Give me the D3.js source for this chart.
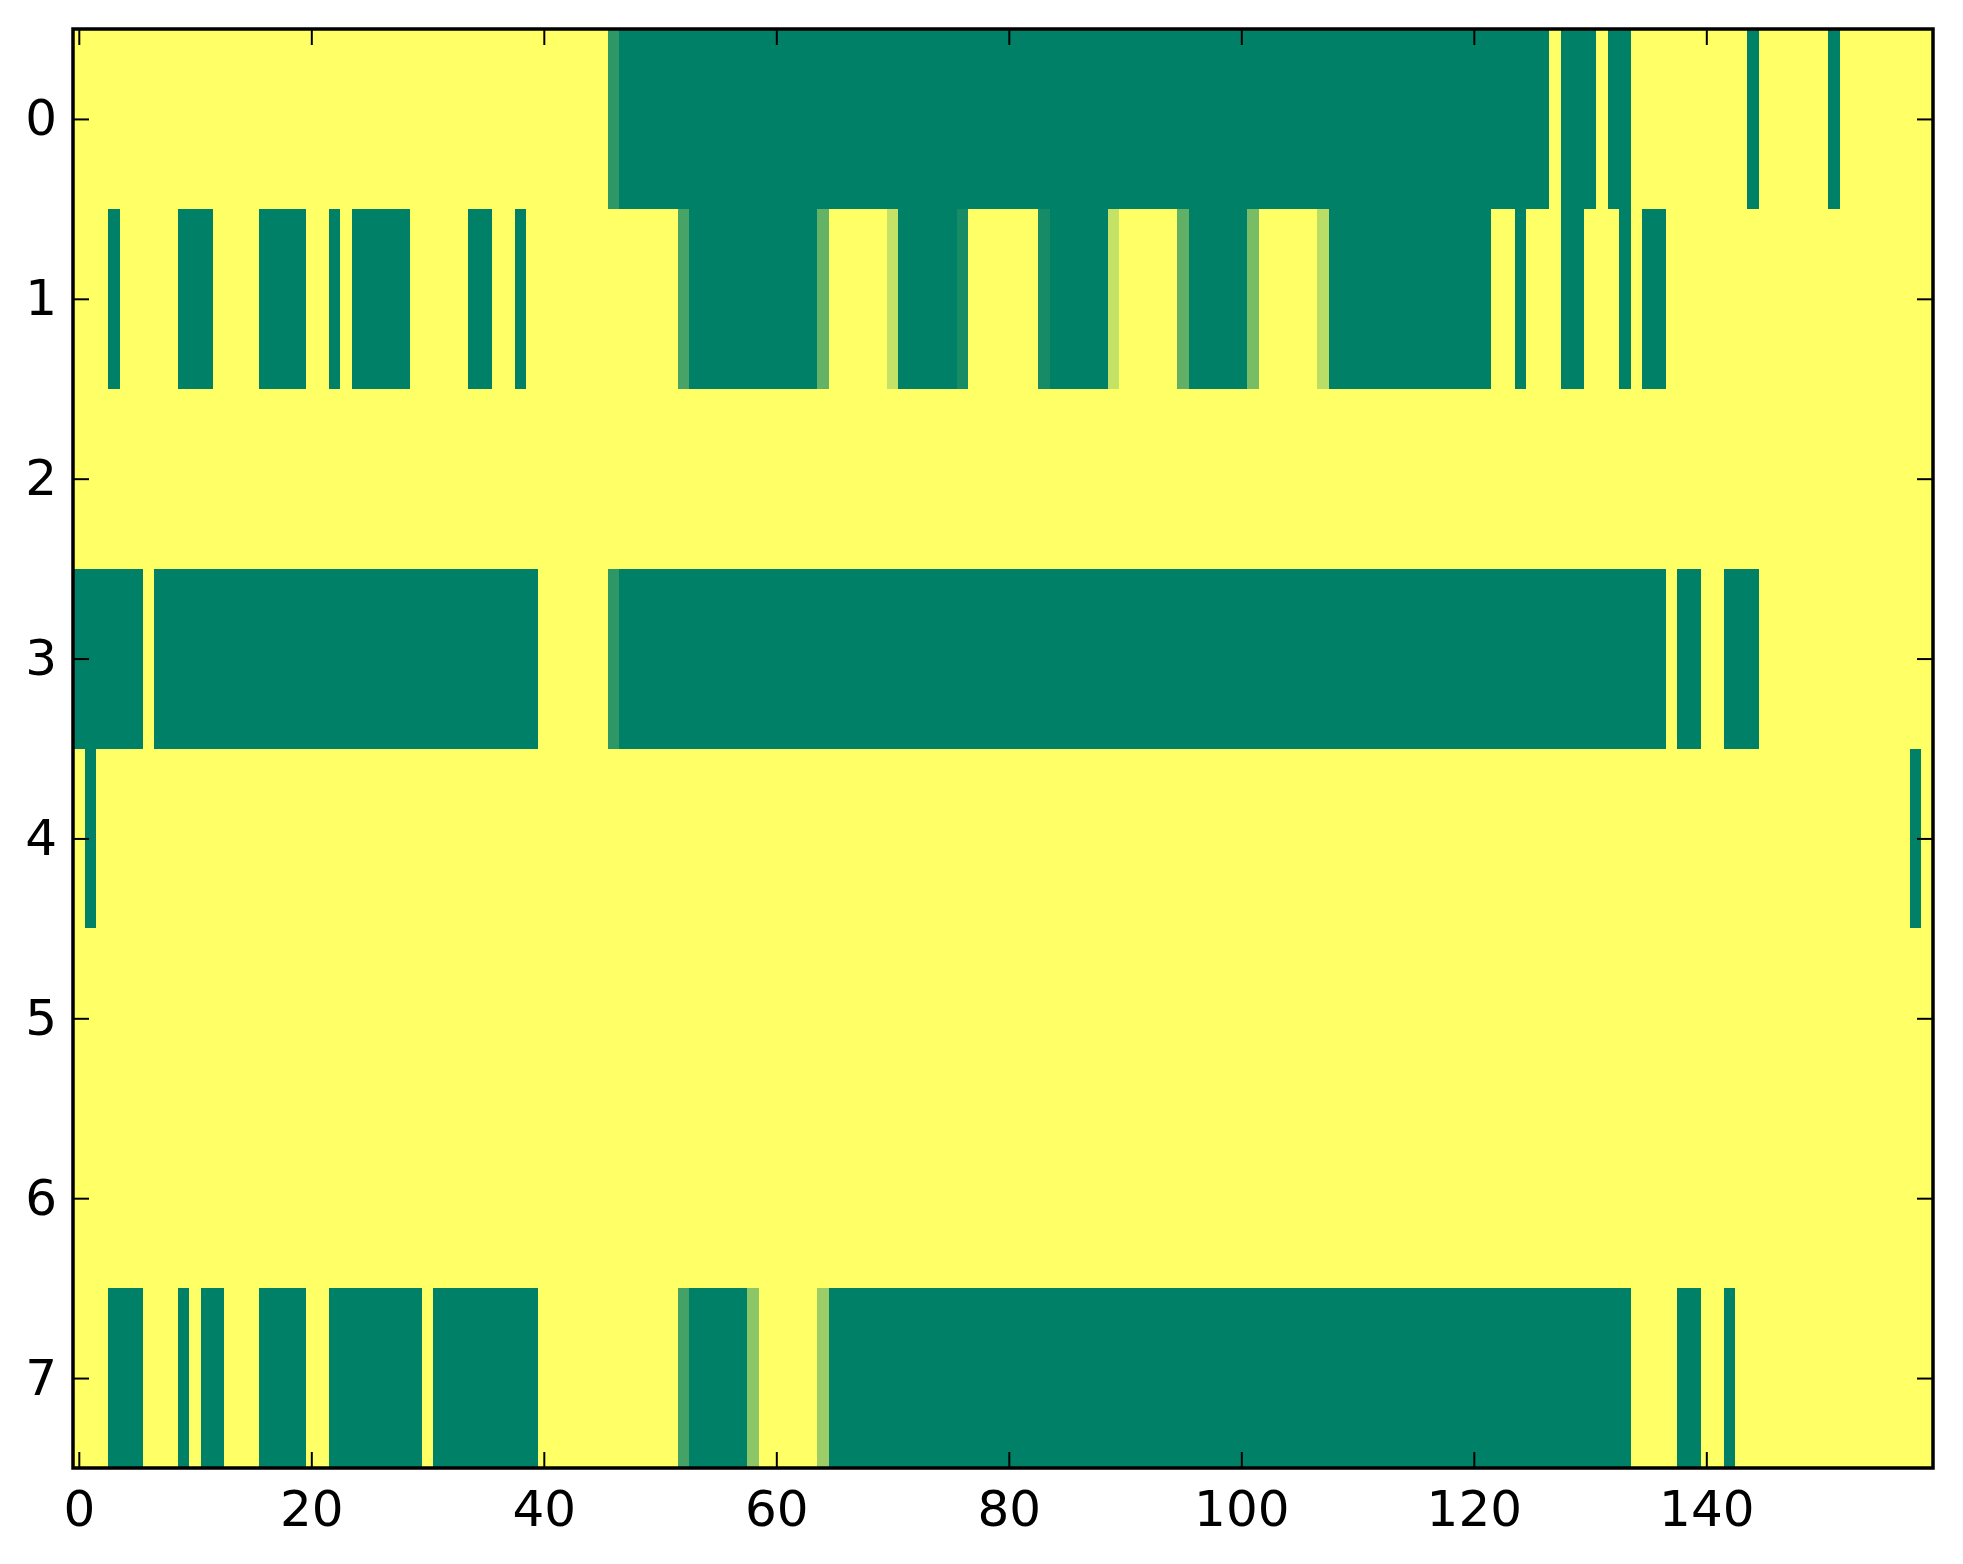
<!DOCTYPE html>
<html>
<head>
<meta charset="utf-8">
<script src="https://cdn.jsdelivr.net/npm/d3@7"></script>
<style>
  html, body { margin: 0; padding: 0; background: #fff; }
  svg { display: block; }
  .tick text { font-family: "DejaVu Sans", sans-serif; font-size: 50px; fill: #000; }
  .tick line { stroke: #000; stroke-width: 2px; }
</style>
</head>
<body>
<div id="chart"></div>
<script>
// each row as runs of [value, count], value 0 = green end, 1 = yellow end
const row0 = [[1, 46], [0.18, 1], [0, 80], [1, 1], [0, 3], [1, 1], [0, 2], [1, 10], [0, 1], [1, 6], [0, 1], [1, 8]]
const row1 = [[1, 3], [0, 1], [1, 5], [0, 3], [1, 4], [0, 4], [1, 2], [0, 1], [1, 1], [0, 5], [1, 5], [0, 2], [1, 2], [0, 1],
  [1, 13], [0.28, 1], [0, 11], [0.39, 1], [1, 5], [0.77, 1], [0, 5], [0.09, 1], [1, 6], [0.09, 1], [0, 5], [0.77, 1],
  [1, 5], [0.38, 1], [0, 5], [0.47, 1], [1, 5], [0.73, 1], [0, 14], [1, 2], [0, 1], [1, 3], [0, 2], [1, 3], [0, 1],
  [1, 1], [0, 2], [1, 23]]
const row2 = [[1, 160]]
const row3 = [[0, 6], [1, 1], [0, 33], [1, 6], [0.18, 1], [0, 90], [1, 1], [0, 2], [1, 2], [0, 3], [1, 15]]
const row4 = [[1, 1], [0, 1], [1, 156], [0, 1], [1, 1]]
const row5 = [[1, 160]]
const row6 = [[1, 160]]
const row7 = [[1, 3], [0, 3], [1, 3], [0, 1], [1, 1], [0, 2], [1, 3], [0, 4], [1, 2], [0, 8], [1, 1], [0, 9], [1, 12],
  [0.27, 1], [0, 5], [0.55, 1], [1, 5], [0.61, 1], [0, 69], [1, 4], [0, 2], [1, 2], [0, 1], [1, 17]]

const rows = [row0, row1, row2, row3, row4, row5, row6, row7]
const nCols = 160
const xTicks = [0, 20, 40, 60, 80, 100, 120, 140]
const yTicks = [0, 1, 2, 3, 4, 5, 6, 7]

const W = 1963, H = 1564
const margin = { top: 29, right: 30, bottom: 96, left: 73 }

const svg = d3.select("#chart").append("svg")
  .attr("width", W)
  .attr("height", H)

const x = d3.scaleLinear().domain([-0.5, nCols - 0.5]).range([margin.left, W - margin.right])
const y = d3.scaleLinear().domain([-0.5, rows.length - 0.5]).range([margin.top, H - margin.bottom])

// matplotlib "summer"
const color = d3.scaleLinear().domain([0, 1]).range(["#008066", "#ffff66"])

const cells = []
rows.forEach((runs, r) => {
  let c = 0
  runs.forEach(([v, n]) => {
    for (let i = 0; i < n; i++) cells.push({ row: r, col: c + i, v })
    c += n
  })
})

svg.append("g")
  .selectAll("rect")
  .data(cells)
  .enter()
  .append("rect")
  .attr("x", (d) => x(d.col - 0.5))
  .attr("y", (d) => y(d.row - 0.5))
  .attr("width", (d) => x(d.col + 0.5) - x(d.col - 0.5) + 0.5)
  .attr("height", (d) => y(d.row + 0.5) - y(d.row - 0.5) + 0.5)
  .attr("fill", (d) => color(d.v))
  .attr("shape-rendering", "crispEdges")

const x0 = x.range()[0], x1 = x.range()[1]
const y0 = y.range()[0], y1 = y.range()[1]

svg.append("g")
  .attr("transform", `translate(0,${y1})`)
  .call(d3.axisBottom(x).tickValues(xTicks).tickSizeInner(-16).tickSizeOuter(0).tickPadding(22))
  .call((g) => g.select(".domain").remove())

svg.append("g")
  .attr("transform", `translate(0,${y0})`)
  .call(d3.axisTop(x).tickValues(xTicks).tickSizeInner(-16).tickSizeOuter(0).tickFormat(""))
  .call((g) => g.select(".domain").remove())

svg.append("g")
  .attr("transform", `translate(${x0},0)`)
  .call(d3.axisLeft(y).tickValues(yTicks).tickSizeInner(-16).tickSizeOuter(0).tickPadding(16).tickFormat(d3.format("d")))
  .call((g) => g.select(".domain").remove())

svg.append("g")
  .attr("transform", `translate(${x1},0)`)
  .call(d3.axisRight(y).tickValues(yTicks).tickSizeInner(-16).tickSizeOuter(0).tickFormat(""))
  .call((g) => g.select(".domain").remove())

svg.append("rect")
  .attr("x", x0)
  .attr("y", y0)
  .attr("width", x1 - x0)
  .attr("height", y1 - y0)
  .attr("fill", "none")
  .attr("stroke", "#000")
  .attr("stroke-width", 3.5)
</script>
</body>
</html>
